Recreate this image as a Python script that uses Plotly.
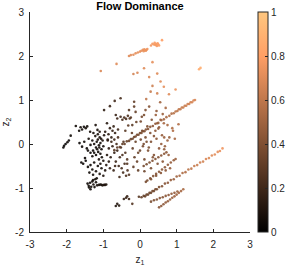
import plotly.graph_objects as go

# --- black cluster ---
xd = [-2.07,-2.09,-2.03,-1.98,-1.94,-1.89,
      -1.75,-1.62,-1.53,-1.48,-1.66,-1.36,-1.21,-1.16,-1.58,-1.44,
      -1.65,-1.58,-1.52,-1.45,-1.40,-1.35,-1.30,-1.28,-1.25,-1.22,-1.20,-1.18,-1.15,-1.12,-1.10,-1.08,-1.05,-1.02,-1.00,-0.98,
      -1.25,-1.20,-1.17,-1.14,-1.11,-1.08,-1.06,-1.15,-1.10,-1.04,-1.30,-1.35,-1.42,-1.50,-1.27,
      -1.60,-1.55,-1.48,-1.42,-1.35,-1.30,-1.25,-1.20,-1.15,-1.10,-1.05,-1.00,-0.95,-1.18,-1.08,-1.00,-1.38,-1.28,-1.12,-0.92,
      -1.43,-1.40,-1.36,-1.33,-1.30,-1.27,-1.24,-1.20,-1.17,-1.12,-1.08,-1.05,-1.02,-0.98,-0.95,-0.92,-1.39,-1.35,-1.22,-1.28]
yd = [-0.04,-0.08,0.00,0.04,0.08,0.19,
      0.41,0.38,0.39,0.36,0.30,0.28,0.43,0.32,0.33,0.40,
      0.02,-0.06,0.05,-0.10,0.12,-0.02,0.08,-0.15,0.00,0.18,-0.08,0.05,0.10,-0.03,0.15,0.02,-0.12,0.08,-0.05,0.20,
      -0.20,-0.25,-0.12,-0.18,-0.08,-0.22,0.12,0.22,0.28,-0.30,-0.28,-0.20,-0.15,-0.32,0.25,
      -0.42,-0.45,-0.38,-0.52,-0.48,-0.58,-0.42,-0.62,-0.50,-0.68,-0.55,-0.72,-0.60,-0.78,-0.45,-0.38,-0.65,-0.70,-0.35,-0.48,
      -0.90,-0.95,-0.88,-0.97,-0.85,-0.92,-0.98,-0.87,-0.94,-0.93,-0.92,-0.93,-0.94,-0.93,-0.93,-0.92,-0.99,-1.03,-0.80,-0.82]
cd = [0.02,0.03,0.02,0.04,0.03,0.05,
      0.05,0.06,0.04,0.07,0.05,0.06,0.08,0.07,0.05,0.06,
      0.03,0.04,0.05,0.03,0.06,0.04,0.05,0.03,0.06,0.07,0.04,0.05,0.08,0.05,0.07,0.06,0.04,0.09,0.06,0.10,
      0.05,0.04,0.06,0.05,0.07,0.04,0.08,0.07,0.09,0.05,0.04,0.03,0.04,0.03,0.06,
      0.03,0.04,0.03,0.05,0.04,0.06,0.05,0.07,0.06,0.08,0.07,0.09,0.10,0.06,0.08,0.09,0.05,0.06,0.08,0.11,
      0.04,0.05,0.04,0.06,0.05,0.06,0.05,0.06,0.07,0.07,0.08,0.08,0.09,0.09,0.10,0.10,0.05,0.05,0.06,0.06]

# --- bottom-left points ---
xb = [-0.66,-0.62,-0.57,-0.44,-0.38,-0.35,-0.30,-0.21]
yb = [-1.41,-1.36,-1.40,-1.25,-1.22,-1.19,-1.25,-1.36]
cb = [0.10,0.11,0.12,0.16,0.18,0.18,0.20,0.26]

# --- upper brown ---
xu = [-0.98,-0.82,-0.69,-0.53,-0.66,-0.62,-0.53,-0.48,-0.43,-0.38,-0.33,-0.28,-0.25,-0.16,-0.16,-0.12,-0.21,-0.30,
      -0.90,-0.82,-0.75,-0.95,-0.86,-0.68,-0.72,-0.60,-0.78,-0.88]
yu = [0.77,0.86,0.98,1.04,0.66,0.58,0.62,0.55,0.60,0.57,0.64,0.58,0.60,0.96,0.85,0.73,0.43,0.77,
      0.47,0.36,0.30,0.28,0.22,0.25,0.40,0.33,0.15,0.10]
cu = [0.15,0.18,0.20,0.22,0.18,0.19,0.20,0.22,0.23,0.24,0.25,0.26,0.27,0.30,0.30,0.31,0.28,0.27,
      0.12,0.14,0.16,0.11,0.13,0.17,0.16,0.19,0.15,0.12]

# --- middle brown ---
xm = [-0.90,-0.85,-0.80,-0.75,-0.70,-0.66,-0.62,-0.58,-0.55,-0.50,-0.46,-0.42,-0.38,-0.34,-0.30,
      -0.85,-0.78,-0.70,-0.64,-0.60,-0.52,-0.45,-0.40,-0.35,-0.82,-0.72,-0.56,-0.48,-0.88,-0.68]
ym = [-0.25,-0.10,-0.30,-0.05,-0.20,-0.40,-0.15,-0.50,-0.30,-0.55,-0.65,-0.45,-0.72,-0.60,-0.70,
      -0.40,0.05,0.10,0.00,0.15,-0.08,0.05,-0.20,-0.35,-0.55,-0.60,-0.75,-0.25,0.08,-0.50]
cm = [0.12,0.14,0.13,0.16,0.15,0.17,0.18,0.19,0.20,0.21,0.22,0.22,0.24,0.25,0.26,
      0.13,0.17,0.20,0.21,0.23,0.22,0.26,0.25,0.27,0.15,0.18,0.21,0.23,0.14,0.19]

# --- right brown ---
xr = [-0.20,-0.12,-0.05,0.02,0.08,0.15,0.22,0.30,0.38,0.45,0.52,0.60,0.68,0.75,
      -0.15,-0.08,0.00,0.06,0.12,0.20,0.28,0.35,0.42,0.50,0.58,0.66,
      0.02,0.11,0.15,0.25,0.43,0.56,0.47,0.65,0.75,0.88,0.90]
yr = [-0.10,0.05,-0.20,0.10,-0.05,0.15,-0.15,0.05,-0.25,0.12,-0.10,0.20,-0.05,0.08,
      -0.30,-0.40,-0.15,0.30,-0.35,0.40,0.25,-0.30,0.30,0.35,0.00,0.15,
      0.51,0.66,0.77,0.85,0.66,0.55,0.47,0.47,0.43,0.36,0.30]
cr = [0.30,0.32,0.33,0.35,0.36,0.38,0.39,0.40,0.41,0.43,0.44,0.46,0.47,0.49,
      0.30,0.32,0.34,0.36,0.36,0.39,0.40,0.41,0.43,0.45,0.46,0.48,
      0.36,0.38,0.40,0.42,0.48,0.50,0.48,0.52,0.53,0.55,0.55]

# --- extra scattered points in the middle ---
xe = [-0.40,-0.32,-0.22,-0.10,0.05,0.18,0.32,0.45,0.55,0.62,0.70,0.80,-0.35,-0.18,0.10,0.24,0.38,
      0.52,0.66,0.78,0.95,1.05,-0.05,0.12,0.30,0.48,0.62,0.16,0.30,0.44,0.57,0.70,0.82]
ye = [0.30,0.42,0.25,0.50,0.62,0.05,0.55,0.75,0.95,0.68,0.82,0.15,-0.45,-0.52,0.00,-0.08,0.18,
      0.38,-0.12,-0.25,0.12,0.45,-0.60,-0.62,-0.55,-0.45,-0.40,-0.86,-0.80,-0.72,-0.66,-0.60,-0.55]
ce = [0.28,0.29,0.31,0.33,0.36,0.38,0.40,0.45,0.50,0.48,0.52,0.47,0.26,0.29,0.36,0.38,0.41,
      0.45,0.45,0.47,0.52,0.56,0.31,0.34,0.37,0.40,0.43,0.36,0.38,0.40,0.42,0.44,0.46]

# --- upper diagonal stripe ---
xs1 = [-0.70,-0.62,-0.55,-0.48,-0.42,-0.36,-0.30,-0.25,-0.20,-0.16,-0.12,-0.08,-0.04,0.00,0.04,
       0.08,0.12,0.16,0.22,0.28,0.35,0.42,0.50,0.58,0.65,0.72,0.80,0.86,0.92,0.97,
       1.02,1.06,1.10,1.14,1.18,1.22,1.26,1.30,1.34,1.38,1.42,1.46,1.50]
ys1 = [-0.14,-0.08,-0.07,0.00,0.00,0.06,0.07,0.11,0.12,0.16,0.17,0.21,0.21,0.25,0.25,
       0.29,0.29,0.33,0.34,0.39,0.41,0.46,0.48,0.54,0.56,0.61,0.64,0.69,0.70,0.74,
       0.75,0.79,0.79,0.83,0.83,0.87,0.87,0.91,0.91,0.95,0.95,0.99,1.00]
cs1 = [0.28,0.29,0.30,0.30,0.31,0.32,0.33,0.33,0.34,0.35,0.35,0.36,0.37,0.37,0.38,
       0.39,0.39,0.40,0.41,0.42,0.44,0.45,0.47,0.49,0.50,0.52,0.54,0.55,0.57,0.58,
       0.59,0.60,0.61,0.62,0.62,0.63,0.64,0.65,0.65,0.66,0.67,0.67,0.68]

# --- lower long stripe ---
xs2 = [-0.03,0.04,0.10,0.14,0.18,0.22,0.26,0.30,0.34,0.38,0.42,0.46,0.52,0.60,0.68,0.76,0.84,0.92,
       1.00,1.08,1.16,1.24,1.32,1.40,1.48,1.56,1.64,1.72,1.80,1.88,1.96,2.04,2.12,2.18,2.25]
ys2 = [-1.20,-1.21,-1.18,-1.19,-1.15,-1.15,-1.11,-1.11,-1.07,-1.07,-1.03,-1.03,-0.98,-0.96,-0.90,-0.88,-0.82,-0.80,
       -0.74,-0.72,-0.66,-0.64,-0.58,-0.56,-0.50,-0.48,-0.42,-0.40,-0.34,-0.32,-0.26,-0.24,-0.18,-0.16,-0.10]
cs2 = [0.28,0.30,0.31,0.31,0.32,0.33,0.33,0.34,0.35,0.35,0.36,0.37,0.38,0.40,0.42,0.44,0.46,0.48,
       0.50,0.52,0.54,0.56,0.58,0.60,0.62,0.63,0.65,0.66,0.68,0.69,0.70,0.71,0.72,0.73,0.75]

# --- short parallel stripes ---
xs3 = [0.52,0.58,0.64,0.70,0.76,0.82,0.88,0.94,1.00,1.06,1.12,1.18]
ys3 = [-1.44,-1.41,-1.37,-1.33,-1.30,-1.26,-1.22,-1.19,-1.15,-1.11,-1.07,-1.03]
cs3 = [0.42,0.43,0.44,0.45,0.46,0.47,0.48,0.49,0.50,0.51,0.52,0.53]
xs4 = [0.30,0.38,0.46,0.54,0.62,0.70,0.78,0.86,0.94,1.02]
ys4 = [-1.31,-1.28,-1.26,-1.23,-1.21,-1.18,-1.16,-1.13,-1.11,-1.08]
cs4 = [0.38,0.39,0.40,0.41,0.42,0.43,0.44,0.45,0.46,0.47]
xs5 = [0.20,0.28,0.36,0.44,0.52,0.60,0.68,0.76,0.84,0.92,0.97]
ys5 = [-0.83,-0.78,-0.73,-0.68,-0.63,-0.58,-0.53,-0.47,-0.42,-0.37,-0.34]
cs5 = [0.38,0.39,0.40,0.41,0.42,0.43,0.44,0.45,0.46,0.47,0.48]
xs6 = [0.10,0.18,0.26,0.34,0.42,0.50,0.58,0.66,0.72]
ys6 = [-0.50,-0.46,-0.42,-0.38,-0.34,-0.30,-0.26,-0.22,-0.19]
cs6 = [0.36,0.37,0.38,0.39,0.40,0.41,0.42,0.43,0.44]

# --- upper orange group ---
xt = [-1.07,-0.64,-0.30,-0.25,-0.18,-0.12,-0.06,0.00,0.04,0.08,0.10,0.12,0.14,0.16,0.18,0.20,0.30,0.34,0.38,0.40,0.42,0.44,0.46,0.48,0.50,0.52,0.60,
      0.34,0.11,-0.18,-0.07,0.47,0.25,0.56,0.65,0.34,0.29,0.47,0.97,0.79,1.61,1.65,0.17]
yt = [1.66,1.82,2.00,2.02,2.03,2.06,2.08,2.10,2.12,2.14,2.11,2.15,2.13,2.12,2.14,2.16,2.24,2.28,2.26,2.30,2.25,2.27,2.23,2.29,2.26,2.24,2.36,
      1.86,1.72,1.59,1.62,1.60,1.52,1.42,1.30,1.32,1.19,1.15,1.24,1.13,1.70,1.73,1.02]
ct = [0.68,0.70,0.70,0.71,0.71,0.72,0.72,0.72,0.73,0.73,0.73,0.74,0.74,0.74,0.74,0.75,0.76,0.77,0.77,0.78,0.77,0.78,0.77,0.78,0.78,0.79,0.80,
      0.72,0.70,0.66,0.68,0.70,0.68,0.70,0.72,0.64,0.62,0.66,0.74,0.70,0.86,0.87,0.60]

x_all = xd + xb + xu + xm + xr + xe + xs1 + xs2 + xs3 + xs4 + xs5 + xs6 + xt
y_all = yd + yb + yu + ym + yr + ye + ys1 + ys2 + ys3 + ys4 + ys5 + ys6 + yt
c_all = cd + cb + cu + cm + cr + ce + cs1 + cs2 + cs3 + cs4 + cs5 + cs6 + ct

copper = [[0.0, "rgb(0,0,0)"], [0.8, "rgb(255,159,101)"], [1.0, "rgb(255,199,127)"]]
axis_col = "#262626"
font_fam = "Liberation Sans, Arial, sans-serif"

fig = go.Figure(go.Scatter(
    x=x_all, y=y_all, mode="markers",
    marker=dict(size=2.6, color=c_all, colorscale=copper, cmin=0, cmax=1,
                line=dict(width=0), opacity=0.9,
                colorbar=dict(x=1.036, xanchor="left", y=0.5, yanchor="middle",
                              len=1, lenmode="fraction", thickness=10,
                              outlinewidth=1, outlinecolor=axis_col,
                              tickvals=[0, 0.2, 0.4, 0.6, 0.8, 1],
                              ticktext=["0", "0.2", "0.4", "0.6", "0.8", "1"],
                              ticks="inside", ticklen=3, tickcolor=axis_col,
                              tickfont=dict(size=10, color=axis_col, family=font_fam),
                              xpad=0, ypad=0)),
    hoverinfo="skip", showlegend=False))

fig.update_layout(
    width=287, height=268,
    margin=dict(l=30, r=37, t=12, b=36, autoexpand=False),
    paper_bgcolor="white", plot_bgcolor="white",
    font=dict(family=font_fam, size=10, color=axis_col),
    title=dict(text="<b>Flow Dominance</b>", x=0.5, xref="paper", xanchor="center",
               y=1 - 6 / 268, yref="container", yanchor="middle",
               font=dict(size=11, color="black", family=font_fam)),
)
fig.update_xaxes(range=[-3, 3], tickvals=[-3, -2, -1, 0, 1, 2, 3],
                 ticktext=["-3", "-2", "-1", "0", "1", "2", "3"],
                 ticks="inside", ticklen=3, tickcolor=axis_col,
                 showline=True, linecolor=axis_col, linewidth=1,
                 showgrid=False, zeroline=False, ticklabelstandoff=3, automargin=False,
                 title=dict(text="z<sub>1</sub>", standoff=6, font=dict(size=10)))
fig.update_yaxes(range=[-2, 3], tickvals=[-2, -1, 0, 1, 2, 3],
                 ticktext=["-2", "-1", "0", "1", "2", "3"],
                 ticks="inside", ticklen=3, tickcolor=axis_col,
                 showline=True, linecolor=axis_col, linewidth=1,
                 showgrid=False, zeroline=False, ticklabelstandoff=3, automargin=False,
                 title=dict(text="z<sub>2</sub>", standoff=4, font=dict(size=10)))

fig.write_html("out.html", config={"displayModeBar": False},
               post_script="document.body.style.margin='0';")
